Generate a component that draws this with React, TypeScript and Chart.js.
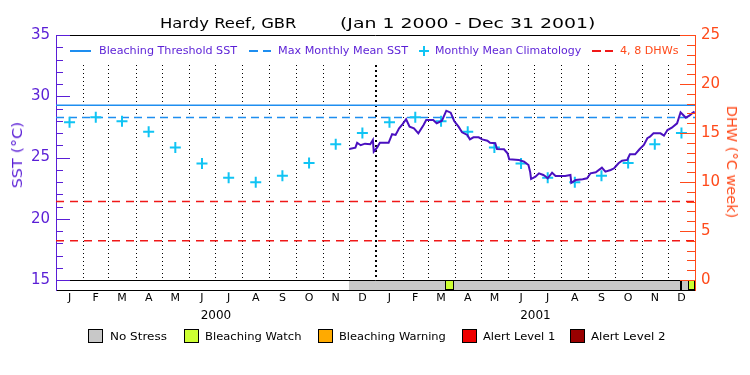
import React, { useEffect, useLayoutEffect, useRef } from 'react';
import { Chart, registerables } from 'chart.js';

Chart.register(...registerables);

// ---------------- data ----------------
const monthLetters = ['J', 'F', 'M', 'A', 'M', 'J', 'J', 'A', 'S', 'O', 'N', 'D'];
const years = [2000, 2001];
const yearLabels = ['2000', '2001'];

// Monthly mean climatology (°C), Jan..Dec
const climatology = [27.87, 28.28, 27.96, 27.1, 25.82, 24.52, 23.35, 22.97, 23.52, 24.55, 26.08, 27.0];
const bleachingThreshold = 29.27;
const maxMonthlyMean = 28.27;
const dhwLevels = [4, 8];

const sstTicks = [15, 20, 25, 30, 35];
const dhwTicks = [0, 5, 10, 15, 20, 25];

const sstDates = [
  '2000-12-01', '2000-12-08', '2000-12-10', '2000-12-14', '2000-12-19', '2000-12-25', '2000-12-28', '2000-12-29',
  '2001-01-02', '2001-01-05', '2001-01-15', '2001-01-19', '2001-01-23', '2001-01-27', '2001-01-31',
  '2001-02-04', '2001-02-08', '2001-02-13', '2001-02-18', '2001-02-24', '2001-02-27',
  '2001-03-07', '2001-03-11', '2001-03-17', '2001-03-22', '2001-03-27', '2001-03-31',
  '2001-04-05', '2001-04-09', '2001-04-15', '2001-04-18', '2001-04-22', '2001-04-28',
  '2001-05-02', '2001-05-08', '2001-05-11', '2001-05-17', '2001-05-19', '2001-05-27', '2001-05-31',
  '2001-06-02', '2001-06-13', '2001-06-19', '2001-06-24', '2001-06-26', '2001-06-27',
  '2001-07-02', '2001-07-06', '2001-07-11', '2001-07-14', '2001-07-16', '2001-07-21', '2001-07-25',
  '2001-08-05', '2001-08-11', '2001-08-12', '2001-08-17', '2001-08-25', '2001-08-30',
  '2001-09-03', '2001-09-09', '2001-09-16', '2001-09-20', '2001-09-26', '2001-09-30',
  '2001-10-05', '2001-10-09', '2001-10-15', '2001-10-18', '2001-10-24', '2001-10-29',
  '2001-11-03', '2001-11-07', '2001-11-10', '2001-11-14', '2001-11-22', '2001-11-26', '2001-11-30',
  '2001-12-05', '2001-12-11', '2001-12-15', '2001-12-18', '2001-12-21', '2001-12-25', '2001-12-28', '2001-12-31',
];
const sstValues = [
  25.69, 25.8, 26.2, 26.0, 26.13, 26.08, 26.43, 25.48,
  25.83, 26.2, 26.2, 26.9, 26.84, 27.38, 27.73,
  28.12, 27.52, 27.38, 26.97, 27.65, 28.06,
  28.06, 27.79, 28.0, 28.82, 28.66, 27.98,
  27.52, 27.06, 26.84, 26.48, 26.65, 26.65,
  26.48, 26.37, 26.2, 26.16, 25.69, 25.67, 25.34,
  24.85, 24.8, 24.66, 24.39, 23.79, 23.24,
  23.43, 23.71, 23.57, 23.43, 23.3, 23.76, 23.49,
  23.49, 23.57, 22.94, 23.16, 23.22, 23.3,
  23.71, 23.79, 24.17, 23.84, 23.98, 24.12,
  24.53, 24.74, 24.8, 25.26, 25.26, 25.67,
  26.02, 26.57, 26.7, 26.97, 26.97, 26.78, 27.24,
  27.43, 27.79, 28.69, 28.47, 28.25, 28.41, 28.6, 28.74,
];

// Bleaching alert status bar
const stressStart = ['2000-12-01', '2001-03-21', '2001-03-31', '2001-12-15', '2001-12-17', '2001-12-24'];
const stressEnd = ['2001-03-21', '2001-03-31', '2001-12-15', '2001-12-17', '2001-12-24', '2002-01-01'];
const stressLevel = [0, 1, 0, 1, 0, 1];
const stressNames = ['No Stress', 'Bleaching Watch', 'Bleaching Warning', 'Alert Level 1', 'Alert Level 2'];
const stressColors = ['#c8c8c8', '#ccff33', '#ffaa00', '#ee0000', '#990000'];

// ---------------- styles ----------------
const FONT = '"DejaVu Sans", sans-serif';
const WEIGHT = 400;
const PURPLE = '#5a1ed6';
const SST_LINE = '#4a10c0';
const ORANGE = '#ff4a1a';
const RED = '#f01818';
const BLUE = '#1e8ef0';
const CYAN = '#10c4f4';

const START = Date.UTC(2000, 0, 1);
const DAY = 86400000;
const dayOf = (s: string) => {
  const [y, m, d] = s.split('-').map(Number);
  return (Date.UTC(y, m - 1, d) - START) / DAY;
};

function FitText(props: { x: number; y: number; w: number; size: number; color: string; text: string }) {
  const ref = useRef<HTMLSpanElement>(null);
  useLayoutEffect(() => {
    const el = ref.current;
    if (!el) return;
    const nat = el.offsetWidth;
    if (nat > 0) el.style.transform = `translateY(-50%) scaleX(${props.w / nat})`;
  }, [props.w, props.text]);
  return (
    <span
      ref={ref}
      style={{
        position: 'absolute', left: props.x, top: props.y, fontFamily: FONT, fontWeight: WEIGHT,
        fontSize: props.size, color: props.color, whiteSpace: 'pre', lineHeight: 1,
        transformOrigin: 'left center', transform: 'translateY(-50%)',
      }}
    >
      {props.text}
    </span>
  );
}

function RotText(props: { cx: number; cy: number; len: number; size: number; color: string; text: string; deg: number }) {
  const ref = useRef<HTMLSpanElement>(null);
  useLayoutEffect(() => {
    const el = ref.current;
    if (!el) return;
    const nat = el.offsetWidth;
    if (nat > 0) el.style.transform = `translate(-50%, -50%) rotate(${props.deg}deg) scaleX(${props.len / nat})`;
  }, [props.len, props.text, props.deg]);
  return (
    <div style={{ position: 'absolute', left: props.cx, top: props.cy, width: 0, height: 0 }}>
      <span
        ref={ref}
        style={{
          position: 'absolute', left: 0, top: 0, fontFamily: FONT, fontWeight: WEIGHT, fontSize: props.size,
          color: props.color, whiteSpace: 'pre', lineHeight: 1,
          transform: `translate(-50%, -50%) rotate(${props.deg}deg)`,
        }}
      >
        {props.text}
      </span>
    </div>
  );
}

const hline = (x0: number, x1: number, y: number, color: string, w = 1.5): React.CSSProperties => ({
  position: 'absolute', left: x0, top: y - w / 2, width: x1 - x0, height: w, background: color,
});

export default function App() {
  const ref = useRef<HTMLCanvasElement>(null);

  useEffect(() => {
    const canvas = ref.current;
    if (!canvas) return;

    const monthStarts: number[] = [];
    const monthMids: number[] = [];
    years.forEach((y) => {
      for (let m = 0; m < 12; m++) {
        const s = (Date.UTC(y, m, 1) - START) / DAY;
        const e = (Date.UTC(y, m + 1, 1) - START) / DAY;
        monthStarts.push(s);
        monthMids.push((s + e) / 2);
      }
    });
    const xEnd = (Date.UTC(years[years.length - 1] + 1, 0, 1) - START) / DAY;
    const yearMids = years.map((y) => ((Date.UTC(y, 0, 1) - START) / DAY + (Date.UTC(y + 1, 0, 1) - START) / DAY) / 2);
    const newYears = years.slice(1).map((y) => (Date.UTC(y, 0, 1) - START) / DAY);

    const sstMin = sstTicks[0];
    const sstMax = sstTicks[sstTicks.length - 1];
    const dhwMax = dhwTicks[dhwTicks.length - 1];
    // 10 px status bar under the 245 px plot
    const yMin = sstMin - ((sstMax - sstMin) * 10) / 245;
    const y2Min = -(dhwMax * 10) / 245;

    const climPoints: { x: number; y: number }[] = [];
    years.forEach((_, yi) => {
      climatology.forEach((v, m) => climPoints.push({ x: monthMids[yi * 12 + m], y: v }));
    });

    const flat = (v: number) => [{ x: 0, y: v }, { x: xEnd, y: v }];

    const datasets: any[] = [
      {
        label: 'SST', data: sstDates.map((d, i) => ({ x: dayOf(d) + 0.5, y: sstValues[i] })),
        borderColor: SST_LINE, borderWidth: 2, pointRadius: 0, tension: 0, yAxisID: 'y', xAxisID: 'x',
      },
      {
        label: 'Monthly Mean Climatology', data: climPoints, showLine: false, pointStyle: 'cross',
        pointRadius: 5.5, pointBorderWidth: 2, pointBorderColor: CYAN, pointBackgroundColor: CYAN,
        borderColor: CYAN, yAxisID: 'y', xAxisID: 'x',
      },
      {
        label: 'Bleaching Threshold SST', data: flat(bleachingThreshold), borderColor: BLUE, borderWidth: 1.5,
        pointRadius: 0, yAxisID: 'y', xAxisID: 'x',
      },
      {
        label: 'Max Monthly Mean SST', data: flat(maxMonthlyMean), borderColor: BLUE, borderWidth: 1.5,
        borderDash: [8, 5], pointRadius: 0, yAxisID: 'y', xAxisID: 'x',
      },
      ...dhwLevels.map((v) => ({
        label: `${v} DHW`, data: flat(v), borderColor: RED, borderWidth: 1.5, borderDash: [8, 6],
        pointRadius: 0, yAxisID: 'y2', xAxisID: 'x',
      })),
      ...stressStart.map((s, i) => ({
        label: stressNames[stressLevel[i]],
        data: [{ x: dayOf(s), y: sstMin }, { x: dayOf(stressEnd[i]), y: sstMin }],
        borderWidth: 0, pointRadius: 0, fill: 'start', backgroundColor: stressColors[stressLevel[i]],
        yAxisID: 'y', xAxisID: 'x',
      })),
    ];

    const decor = {
      id: 'decor',
      beforeDatasetsDraw(chart: any) {
        const { ctx, chartArea: a, scales } = chart;
        const x = scales.x;
        const y = scales.y;
        const yb = y.getPixelForValue(sstMin);
        ctx.save();
        ctx.strokeStyle = '#000';
        monthStarts.forEach((d) => {
          if (d <= 0) return;
          const bold = newYears.includes(d);
          const px = Math.round(x.getPixelForValue(d)) + (bold ? 0 : 0.5);
          ctx.lineWidth = bold ? 2 : 1;
          ctx.setLineDash(bold ? [2, 3] : [1, 3]);
          ctx.beginPath();
          ctx.moveTo(px, a.top + 30);
          ctx.lineTo(px, yb);
          ctx.stroke();
        });
        ctx.restore();
      },
      afterDatasetsDraw(chart: any) {
        const { ctx, chartArea: a, scales } = chart;
        const x = scales.x;
        const y = scales.y;
        const y2 = scales.y2;
        ctx.save();
        ctx.setLineDash([]);
        ctx.lineWidth = 1;
        ctx.strokeStyle = '#000';
        const yb = Math.round(y.getPixelForValue(sstMin)) + 0.5;
        ctx.beginPath();
        ctx.moveTo(a.left, a.top + 0.5);
        ctx.lineTo(a.right, a.top + 0.5);
        ctx.moveTo(a.left, yb);
        ctx.lineTo(a.right, yb);
        ctx.stroke();
        stressStart.forEach((s, i) => {
          if (stressLevel[i] === 0) return;
          const x0 = Math.round(x.getPixelForValue(dayOf(s))) + 0.5;
          const x1 = Math.round(x.getPixelForValue(dayOf(stressEnd[i]))) - 0.5;
          ctx.strokeRect(x0, yb, x1 - x0, Math.round(a.bottom) - 0.5 - yb);
        });
        ctx.strokeStyle = PURPLE;
        for (let v = sstMin; v <= sstMax; v++) {
          const py = Math.round(y.getPixelForValue(v)) + 0.5;
          const len = v % 5 === 0 ? 14 : 7;
          ctx.beginPath();
          ctx.moveTo(a.left, py);
          ctx.lineTo(a.left + len, py);
          ctx.stroke();
        }
        ctx.strokeStyle = ORANGE;
        for (let v = 0; v <= dhwMax; v++) {
          const py = Math.round(y2.getPixelForValue(v)) + 0.5;
          const len = v % 5 === 0 ? 15 : 8;
          ctx.beginPath();
          ctx.moveTo(a.right, py);
          ctx.lineTo(a.right - len, py);
          ctx.stroke();
        }
        ctx.restore();
      },
    };

    const noGrid = { display: false, drawTicks: false, tickLength: 0 };
    const tickFont = (size: number) => ({ family: FONT, size, weight: WEIGHT });

    const chart = new Chart(canvas, {
      type: 'line',
      data: { datasets },
      plugins: [decor],
      options: {
        animation: false,
        responsive: false,
        devicePixelRatio: 1,
        events: [],
        layout: { padding: { top: 35, left: 0, right: 0, bottom: 47 } },
        plugins: { legend: { display: false }, tooltip: { enabled: false }, title: { display: false } },
        scales: {
          x: {
            type: 'linear', position: 'bottom', min: 0, max: xEnd,
            grid: noGrid, border: { display: true, color: '#000', width: 1 },
            afterBuildTicks: (s: any) => { s.ticks = monthMids.map((v) => ({ value: v })); },
            ticks: {
              autoSkip: false, maxRotation: 0, padding: 2, color: '#000', font: tickFont(11),
              callback: (_v: any, i: number) => monthLetters[i % 12],
            },
            afterFit: (s: any) => { s.height = 18; },
          },
          x2: {
            type: 'linear', position: 'bottom', min: 0, max: xEnd,
            grid: noGrid, border: { display: false },
            afterBuildTicks: (s: any) => { s.ticks = yearMids.map((v) => ({ value: v })); },
            ticks: {
              autoSkip: false, maxRotation: 0, padding: 1, color: '#000', font: tickFont(12),
              callback: (_v: any, i: number) => yearLabels[i],
            },
            afterFit: (s: any) => { s.height = 20; },
          },
          y: {
            type: 'linear', position: 'left', min: yMin, max: sstMax,
            grid: noGrid, border: { display: true, color: PURPLE, width: 1 },
            afterBuildTicks: (s: any) => { s.ticks = sstTicks.map((v) => ({ value: v })); },
            ticks: {
              autoSkip: false, padding: 6, color: PURPLE, font: tickFont(15),
              callback: (v: any) => String(v),
            },
            afterFit: (s: any) => { s.width = 56; },
          },
          y2: {
            type: 'linear', position: 'right', min: y2Min, max: dhwMax,
            grid: noGrid, border: { display: true, color: ORANGE, width: 1 },
            afterBuildTicks: (s: any) => { s.ticks = dhwTicks.map((v) => ({ value: v })); },
            ticks: {
              autoSkip: false, padding: 6, color: ORANGE, font: tickFont(15),
              callback: (v: any) => String(v),
            },
            afterFit: (s: any) => { s.width = 55; },
          },
        },
      } as any,
    });
    return () => chart.destroy();
  }, []);

  const legendBoxes = [
    { bx: 88, tx: 109.6, tw: 56.6 },
    { bx: 184, tx: 205, tw: 96.6 },
    { bx: 318, tx: 339, tw: 107 },
    { bx: 462, tx: 483, tw: 72 },
    { bx: 570, tx: 590.7, tw: 74.3 },
  ];

  return (
    <div style={{ position: 'fixed', left: 0, top: 0, width: 750, height: 375, background: '#fff', overflow: 'hidden' }}>
      <canvas ref={ref} width={750} height={375} style={{ position: 'absolute', left: 0, top: 0, width: 750, height: 375 }} />

      <FitText x={160} y={23} w={137} size={14} color="#000" text="Hardy Reef, GBR" />
      <FitText x={340} y={23} w={255} size={14} color="#000" text="(Jan 1 2000 - Dec 31 2001)" />

      {/* top legend */}
      <div style={hline(70, 91, 51, BLUE)} />
      <FitText x={98.5} y={51} w={138.5} size={10} color={PURPLE} text="Bleaching Threshold SST" />
      <div style={hline(248.5, 258, 51, BLUE)} />
      <div style={hline(262.5, 271, 51, BLUE)} />
      <FitText x={278} y={51} w={129.7} size={10} color={PURPLE} text="Max Monthly Mean SST" />
      <div style={hline(419, 429, 51, CYAN, 2)} />
      <div style={{ position: 'absolute', left: 423, top: 46, width: 2, height: 10, background: CYAN }} />
      <FitText x={435} y={51} w={146} size={10} color={PURPLE} text="Monthly Mean Climatology" />
      <div style={hline(592, 601, 51, RED)} />
      <div style={hline(605, 613, 51, RED)} />
      <FitText x={620} y={51} w={59} size={10} color={ORANGE} text="4, 8 DHWs" />

      <RotText cx={17} cy={155} len={66} size={14} color={PURPLE} text="SST (°C)" deg={-90} />
      <RotText cx={731.7} cy={161.5} len={113} size={14} color={ORANGE} text="DHW (°C week)" deg={90} />

      {/* bottom legend */}
      {stressNames.map((n, i) => (
        <React.Fragment key={n}>
          <div
            style={{
              position: 'absolute', left: legendBoxes[i].bx, top: 329, width: 13, height: 12,
              background: stressColors[i], border: '1px solid #000',
            }}
          />
          <FitText x={legendBoxes[i].tx} y={335.5} w={legendBoxes[i].tw} size={11} color="#000" text={n} />
        </React.Fragment>
      ))}
    </div>
  );
}
